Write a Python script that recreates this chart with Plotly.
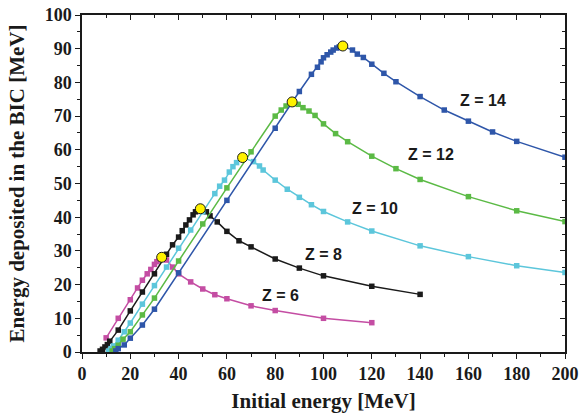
import plotly.graph_objects as go

# ---- data ----
e_z6 = [10, 15, 20, 23, 25, 27, 28.5, 30, 31, 32, 33, 35, 37.5, 40, 45, 50, 55, 60, 70, 80, 100, 120]
d_z6 = [4.2, 10.0, 15.5, 19.0, 21.3, 23.2, 24.5, 26.0, 26.8, 27.5, 28.1, 27.3, 25.2, 23.2, 20.8, 18.7, 17.0, 15.8, 13.7, 12.3, 10.0, 8.7]

e_z8 = [7.5, 8.5, 9.5, 10.5, 11.5, 15, 20, 25, 30, 35, 37.5, 40, 41.5, 43, 44.5, 46, 47, 49, 51.5, 53, 56, 60, 65, 70, 80, 90, 100, 120, 140]
d_z8 = [0.3, 0.8, 1.5, 2.2, 3.2, 6.5, 12.2, 17.8, 23.2, 29.0, 31.8, 34.1, 36.0, 37.7, 39.2, 40.7, 41.6, 42.5, 41.6, 40.4, 38.6, 35.8, 33.0, 31.2, 27.6, 24.9, 22.6, 19.5, 17.1]

e_z10 = [11, 12, 13, 15, 17.5, 20, 25, 30, 35, 40, 45, 50, 55, 57, 59, 61, 62.5, 64, 66.5, 71, 73.5, 75, 80, 85, 90, 95, 100, 110, 120, 140, 160, 180, 200]
d_z10 = [0.3, 1.0, 1.8, 3.5, 6.0, 8.6, 14.2, 19.7, 25.2, 30.8, 36.2, 41.6, 47.0, 49.2, 51.0, 53.4, 55.0, 56.2, 57.7, 56.5, 55.2, 54.0, 51.0, 48.3, 45.9, 43.7, 41.7, 38.6, 35.9, 31.5, 28.3, 25.6, 23.6]

e_z12 = [12.5, 13.5, 15, 17, 20, 25, 30, 40, 50, 60, 70, 80, 82.5, 84.5, 87, 89.5, 91.5, 94, 96.5, 100, 105, 110, 120, 130, 140, 160, 180, 200]
d_z12 = [0.3, 1.0, 2.0, 3.8, 6.0, 11.0, 16.0, 27.0, 38.0, 48.7, 59.4, 70.0, 71.8, 73.0, 74.2, 73.5, 72.5, 71.5, 70.2, 67.7, 64.8, 62.4, 58.1, 54.4, 51.2, 46.1, 41.9, 38.7]

e_z14 = [14, 15, 17.5, 20, 25, 30, 40, 60, 80, 90, 95, 97.5, 99, 100, 101.5, 103, 104, 105.5, 106.5, 108, 112, 114, 116.5, 120, 125, 130, 140, 150, 160, 170, 180, 200]
d_z14 = [0.3, 1.0, 2.1, 4.1, 8.0, 12.7, 23.5, 45.0, 66.4, 77.3, 82.4, 84.5, 86.1, 87.3, 88.2, 89.0, 89.6, 90.2, 90.5, 90.8, 89.6, 88.4, 87.4, 85.4, 82.7, 80.2, 75.8, 71.8, 68.5, 65.3, 62.5, 57.8]

peak_e = [33, 49, 66.5, 87, 108]
peak_d = [28.1, 42.5, 57.7, 74.2, 90.8]

labels = ["Z = 6", "Z = 8", "Z = 10", "Z = 12", "Z = 14"]
label_e = [82, 100, 121.5, 144.5, 166]
label_d = [16.9, 28.8, 42.6, 58.5, 74.5]

x_ticks = list(range(0, 201, 20))
y_ticks = list(range(0, 101, 10))

series = [
    (e_z6, d_z6, "#C44DA3"),
    (e_z8, d_z8, "#1A1A1A"),
    (e_z10, d_z10, "#5CC6DB"),
    (e_z12, d_z12, "#5BBA45"),
    (e_z14, d_z14, "#2E56A9"),
]

fig = go.Figure()
for ex, dy, col in series:
    fig.add_trace(go.Scatter(
        x=ex, y=dy, mode="lines+markers",
        line=dict(color=col, width=1.5),
        marker=dict(symbol="square", size=5.5, color=col),
        showlegend=False, hoverinfo="skip"))

fig.add_trace(go.Scatter(
    x=peak_e, y=peak_d, mode="markers",
    marker=dict(symbol="circle", size=10, color="#FFF200",
                line=dict(color="#1A1A1A", width=1)),
    showlegend=False, hoverinfo="skip"))

# invisible trace for mirrored (inside) ticks on top/right
fig.add_trace(go.Scatter(x=[0], y=[0], xaxis="x2", yaxis="y2", mode="markers",
                         marker=dict(opacity=0), showlegend=False, hoverinfo="skip"))

for t, xe, yd in zip(labels, label_e, label_d):
    fig.add_annotation(x=xe, y=yd, text="<b>%s</b>" % t, showarrow=False,
                       font=dict(family="Liberation Sans", size=16, color="#1A1A1A"))

tick_font = dict(family="Liberation Serif", size=18, color="#1A1A1A", weight="bold")
title_font = dict(family="Liberation Serif", size=21, color="#1A1A1A", weight="bold")

common = dict(showgrid=False, zeroline=False, showline=True, linecolor="#1A1A1A",
              linewidth=1.5, tickwidth=1.2, tickcolor="#1A1A1A", automargin=False)

fig.update_layout(
    width=581, height=415,
    margin=dict(l=82, r=16, t=15, b=63),
    paper_bgcolor="white", plot_bgcolor="white",
    xaxis=dict(range=[0, 200], tickvals=x_ticks, ticks="outside", ticklen=5,
               minor=dict(dtick=10, ticks="outside", ticklen=3, tickwidth=1.2, tickcolor="#1A1A1A"),
               tickfont=tick_font,
               title=dict(text="Initial energy [MeV]", font=title_font, standoff=10),
               **common),
    yaxis=dict(range=[0, 100], tickvals=y_ticks, ticks="outside", ticklen=5,
               minor=dict(dtick=5, ticks="outside", ticklen=3, tickwidth=1.2, tickcolor="#1A1A1A"),
               tickfont=tick_font,
               title=dict(text="Energy deposited in the BIC [MeV]", font=title_font, standoff=14),
               **common),
    xaxis2=dict(range=[0, 200], overlaying="x", side="top", tickvals=x_ticks,
                showticklabels=False, ticks="inside", ticklen=5,
                minor=dict(dtick=10, ticks="inside", ticklen=3, tickwidth=1.2, tickcolor="#1A1A1A"),
                **common),
    yaxis2=dict(range=[0, 100], overlaying="y", side="right", tickvals=y_ticks,
                showticklabels=False, ticks="inside", ticklen=5,
                minor=dict(dtick=5, ticks="inside", ticklen=3, tickwidth=1.2, tickcolor="#1A1A1A"),
                **common),
)

fig.write_html("out.html")
